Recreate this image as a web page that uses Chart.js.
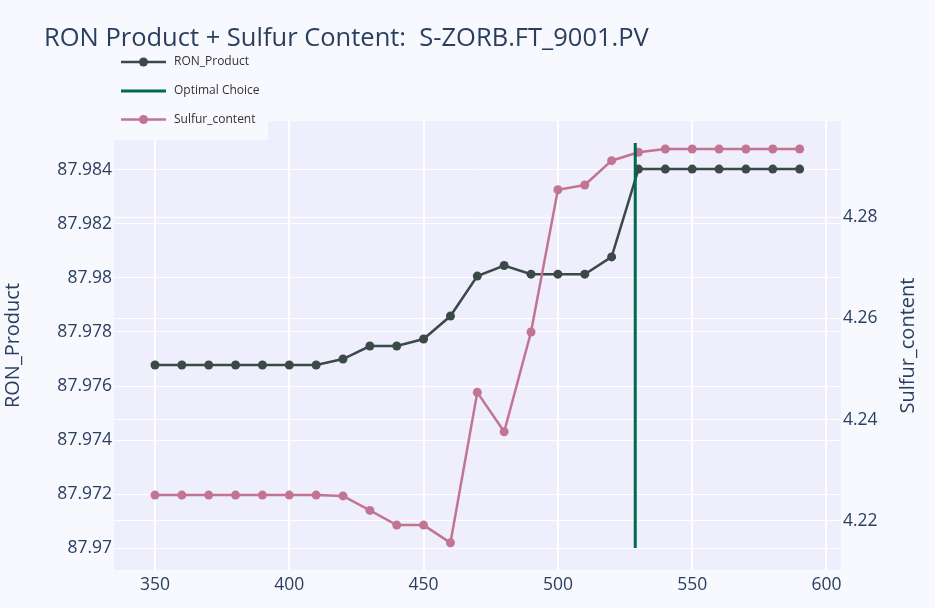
<!DOCTYPE html>
<html>
<head>
<meta charset="utf-8">
<script src="https://cdn.jsdelivr.net/npm/chart.js@4.4.1/dist/chart.umd.min.js"></script>
<style>
  html, body { margin: 0; padding: 0; background: #f8f8ff; }
  #c { display: block; }
</style>
</head>
<body>
<canvas id="c" width="935" height="608"></canvas>
<script>
// ---- data ----
const xValues = [350, 360, 370, 380, 390, 400, 410, 420, 430, 440, 450, 460, 470,
                 480, 490, 500, 510, 520, 530, 540, 550, 560, 570, 580, 590];
const ronProduct = [87.97678, 87.97678, 87.97678, 87.97678, 87.97678, 87.97678, 87.97678,
                    87.97700, 87.97748, 87.97748, 87.97774, 87.97859, 87.98007,
                    87.98046, 87.98014, 87.98014, 87.98014, 87.98078,
                    87.98403, 87.98403, 87.98403, 87.98403, 87.98403, 87.98403, 87.98403];
const sulfurContent = [4.22506, 4.22506, 4.22506, 4.22506, 4.22506, 4.22506, 4.22506,
                       4.22490, 4.22204, 4.21913, 4.21913, 4.21563, 4.24538,
                       4.23759, 4.25731, 4.28546, 4.28639, 4.29120,
                       4.29286, 4.29351, 4.29351, 4.29351, 4.29351, 4.29351, 4.29351];
const optimalX = [528.8, 528.8];
const optimalY = [87.970, 87.985];
const xTicks = [350, 400, 450, 500, 550, 600];
const leftTicks = [87.97, 87.972, 87.974, 87.976, 87.978, 87.98, 87.982, 87.984];
const rightTicks = [4.22, 4.24, 4.26, 4.28];
const titleText = 'RON Product + Sulfur Content:  S-ZORB.FT_9001.PV';
const seriesNames = ['RON_Product', 'Optimal Choice', 'Sulfur_content'];

// ---- style ----
const PAPER = '#f8f8ff';
const PLOT = '#eeeefd';
const TEXT = '#2a3f5f';
const C_RON = '#3b4a47';
const C_OPT = '#006a4e';
const C_SUL = '#c27592';
const FONT = '"Open Sans", "Noto Sans", sans-serif';

const bgPlugin = {
  id: 'bg',
  beforeDraw(chart) {
    const { ctx, chartArea: a } = chart;
    ctx.save();
    ctx.fillStyle = PAPER;
    ctx.fillRect(0, 0, chart.width, chart.height);
    ctx.fillStyle = PLOT;
    ctx.fillRect(a.left, a.top, a.right - a.left, a.bottom - a.top);
    ctx.restore();
  },
  afterDraw(chart) {
    const ctx = chart.ctx;
    ctx.save();
    // title
    ctx.fillStyle = TEXT;
    ctx.font = '25.5px ' + FONT;
    ctx.textAlign = 'left';
    ctx.textBaseline = 'alphabetic';
    ctx.fillText(titleText, 44, 45.7);
    // axis titles
    ctx.font = '20px ' + FONT;
    ctx.textAlign = 'center';
    ctx.textBaseline = 'middle';
    ctx.save();
    ctx.translate(13, 345.5);
    ctx.rotate(-Math.PI / 2);
    ctx.fillText(seriesNames[0], 0, 0);
    ctx.restore();
    ctx.save();
    ctx.translate(908, 345.5);
    ctx.rotate(-Math.PI / 2);
    ctx.fillText(seriesNames[2], 0, 0);
    ctx.restore();
    // legend
    ctx.fillStyle = PAPER;
    ctx.fillRect(112, 47, 156, 93);
    const rows = [62, 91, 119.5];
    const cols = [C_RON, C_OPT, C_SUL];
    const dots = [true, false, true];
    for (let i = 0; i < 3; i++) {
      const y = rows[i];
      ctx.strokeStyle = cols[i];
      ctx.lineWidth = dots[i] ? 2.5 : 3;
      ctx.beginPath();
      ctx.moveTo(121, y);
      ctx.lineTo(166, y);
      ctx.stroke();
      if (dots[i]) {
        ctx.fillStyle = cols[i];
        ctx.beginPath();
        ctx.arc(143.5, y, 4.5, 0, Math.PI * 2);
        ctx.fill();
      }
      ctx.fillStyle = '#333';
      ctx.font = '12px ' + FONT;
      ctx.textAlign = 'left';
      ctx.textBaseline = 'middle';
      ctx.fillText(seriesNames[i], 174, y);
    }
    ctx.restore();
  }
};

function build() {
  const ctx = document.getElementById('c').getContext('2d');
  new Chart(ctx, {
    type: 'line',
    data: {
      datasets: [
        {
          label: seriesNames[1],
          data: optimalX.map((x, i) => ({ x, y: optimalY[i] })),
          borderColor: C_OPT, backgroundColor: C_OPT,
          borderWidth: 3, pointRadius: 0, yAxisID: 'y', order: 0
        },
        {
          label: seriesNames[2],
          data: xValues.map((x, i) => ({ x, y: sulfurContent[i] })),
          borderColor: C_SUL, backgroundColor: C_SUL,
          borderWidth: 2.5, pointRadius: 4.5, pointBorderWidth: 0,
          yAxisID: 'y2', order: 1, tension: 0
        },
        {
          label: seriesNames[0],
          data: xValues.map((x, i) => ({ x, y: ronProduct[i] })),
          borderColor: C_RON, backgroundColor: C_RON,
          borderWidth: 2.5, pointRadius: 4.5, pointBorderWidth: 0,
          yAxisID: 'y', order: 2, tension: 0
        }
      ]
    },
    options: {
      responsive: false,
      animation: false,
      layout: { padding: { top: 121, left: 0, right: 0, bottom: 0 } },
      plugins: { legend: { display: false }, title: { display: false }, tooltip: { enabled: false } },
      scales: {
        x: {
          type: 'linear', min: 334.74, max: 605.4,
          afterFit(s) { s.height = 38; },
          afterBuildTicks(s) { s.ticks = xTicks.map(v => ({ value: v })); },
          border: { display: false },
          grid: { color: '#ffffff', lineWidth: 2, drawTicks: false },
          ticks: { color: TEXT, font: { family: FONT, size: 17.5 }, padding: 5, maxRotation: 0,
                   callback: v => String(v) }
        },
        y: {
          type: 'linear', position: 'left', min: 87.96919, max: 87.98581,
          afterFit(s) { s.width = 114; },
          afterBuildTicks(s) { s.ticks = leftTicks.map(v => ({ value: v })); },
          border: { display: false },
          grid: { color: '#ffffff', lineWidth: 1, drawTicks: false },
          ticks: { color: TEXT, font: { family: FONT, size: 17.5 }, padding: 2,
                   callback: v => String(Number(v.toFixed(3))) }
        },
        y2: {
          type: 'linear', position: 'right', min: 4.21025, max: 4.29905,
          afterFit(s) { s.width = 94; },
          afterBuildTicks(s) { s.ticks = rightTicks.map(v => ({ value: v })); },
          border: { display: false },
          grid: { color: '#ffffff', lineWidth: 1, drawTicks: false },
          ticks: { color: TEXT, font: { family: FONT, size: 17.5 }, padding: 2,
                   callback: v => String(Number(v.toFixed(2))) }
        }
      }
    },
    plugins: [bgPlugin]
  });
}

if (document.fonts && document.fonts.load) {
  Promise.all([document.fonts.load('17px "Open Sans"'), document.fonts.load('25px "Open Sans"')])
    .then(build, build);
} else { build(); }
</script>
</body>
</html>
